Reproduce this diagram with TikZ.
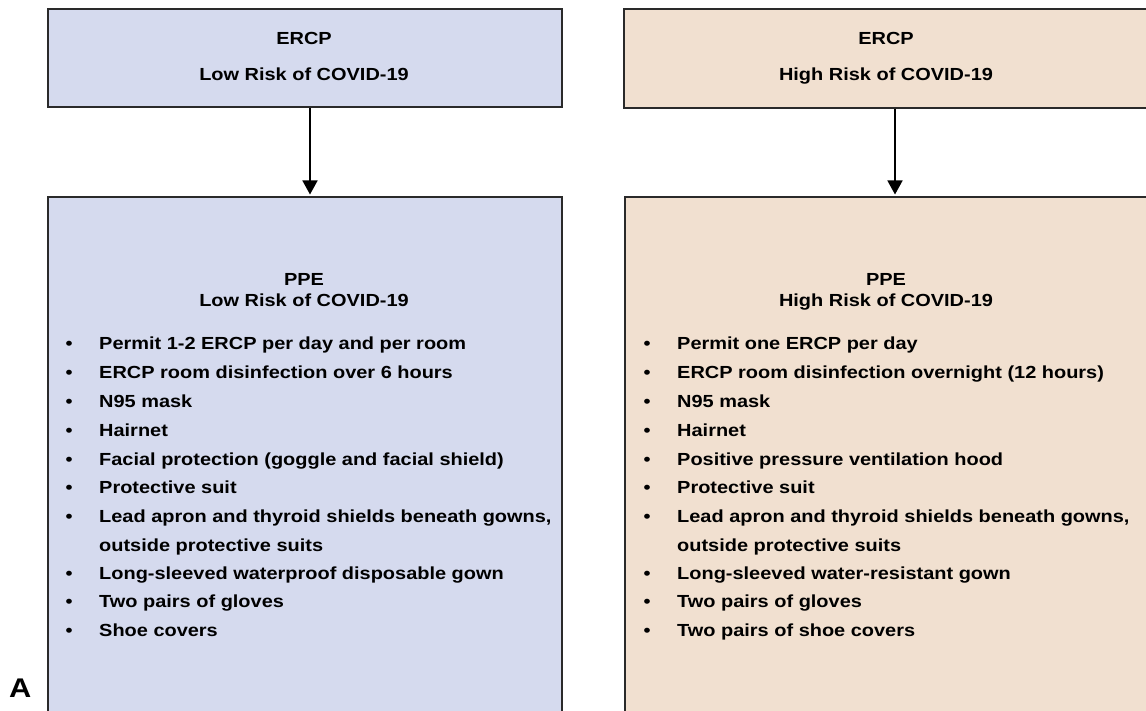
\documentclass[tikz,border=0pt]{standalone}
\usepackage{fontspec}
\setmainfont{Liberation Sans}
\newfontfamily\widefont[FakeStretch=1.14]{Liberation Sans}
\usetikzlibrary{arrows.meta}
\definecolor{lowblue}{HTML}{D5DAEE}
\definecolor{highpeach}{HTML}{F1E0D0}
\definecolor{edge}{HTML}{2A2A2A}
\begin{document}
\begin{tikzpicture}[x=1pt,y=-1pt,
  box/.style={draw=edge,line width=1.6pt,inner sep=0pt,anchor=north west},
  txt/.style={font=\widefont\bfseries\fontsize{17.5}{20}\selectfont,inner sep=0pt,anchor=base west},
  ctr/.style={font=\widefont\bfseries\fontsize{17.5}{20}\selectfont,inner sep=0pt,anchor=base},
  bul/.style={font=\widefont\bfseries\fontsize{17.5}{20}\selectfont,inner sep=0pt,anchor=base},
  conn/.style={draw=black,line width=1.5pt,shorten >=1.5pt,-{Triangle[length=14pt,width=15pt]}}]
\useasboundingbox (0,0) rectangle (1146,711);
\clip (0,0) rectangle (1146,711);
\fill[white] (0,0) rectangle (1146,711);
% boxes
\node[box,fill=lowblue,minimum width=514pt,minimum height=98pt] (t1) at (47,8) {};
\node[box,fill=highpeach,minimum width=526pt,minimum height=99pt] (t2) at (623,8) {};
\node[box,fill=lowblue,minimum width=514pt,minimum height=540pt] (b1) at (47,196) {};
\node[box,fill=highpeach,minimum width=526pt,minimum height=540pt] (b2) at (624,196) {};
% top texts
\node[ctr] (t1a) at (304,45) {ERCP};
\node[ctr] (t1b) at (304,81) {Low Risk of COVID-19};
\node[ctr] (t2a) at (886,45) {ERCP};
\node[ctr] (t2b) at (886,81) {High Risk of COVID-19};
% arrows
\coordinate (a1) at (310,150);
\coordinate (a2) at (895,150);
\draw[conn] (t1.south -| a1) -- (b1.north -| a1);
\draw[conn] (t2.south -| a2) -- (b2.north -| a2);
% headers
\node[ctr] (h1a) at (304,286) {PPE};
\node[ctr] (h1b) at (304,307) {Low Risk of COVID-19};
\node[ctr] (h2a) at (886,286) {PPE};
\node[ctr] (h2b) at (886,307) {High Risk of COVID-19};
% left list
\foreach \y/\t [count=\i] in {349/{Permit 1-2 ERCP per day and per room},
  378/{ERCP room disinfection over 6 hours},
  407/{N95 mask},
  436/{Hairnet},
  465/{Facial protection (goggle and facial shield)},
  493/{Protective suit},
  522/{Lead apron and thyroid shields beneath gowns,},
  579/{Long-sleeved waterproof disposable gown},
  607/{Two pairs of gloves},
  636/{Shoe covers}}{
  \node[bul] (lb\i) at (69,\y) {\textbullet};
  \node[txt] (lt\i) at (99,\y) {\t};
}
\node[txt] (lt11) at (99,551) {outside protective suits};
% right list
\foreach \y/\t [count=\i] in {349/{Permit one ERCP per day},
  378/{ERCP room disinfection overnight (12 hours)},
  407/{N95 mask},
  436/{Hairnet},
  465/{Positive pressure ventilation hood},
  493/{Protective suit},
  522/{Lead apron and thyroid shields beneath gowns,},
  579/{Long-sleeved water-resistant gown},
  607/{Two pairs of gloves},
  636/{Two pairs of shoe covers}}{
  \node[bul] (rb\i) at (647,\y) {\textbullet};
  \node[txt] (rt\i) at (677,\y) {\t};
}
\node[txt] (rt11) at (677,551) {outside protective suits};
% panel label
\node[font=\widefont\bfseries\fontsize{27}{30}\selectfont,inner sep=0pt,anchor=base west] (lab) at (9,697) {A};
\end{tikzpicture}
\end{document}
